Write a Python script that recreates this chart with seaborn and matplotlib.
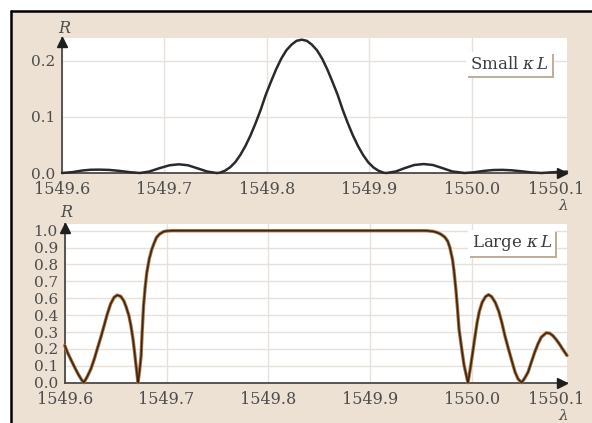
import numpy as np
import pandas as pd
import matplotlib
matplotlib.use("Agg")
import matplotlib.pyplot as plt
from matplotlib.patches import Rectangle
from matplotlib.lines import Line2D
from matplotlib import patheffects
from matplotlib.transforms import offset_copy
import seaborn as sns

# ---- Reflectance spectrum of a weak grating (small kappa*L) ----
lam_small = [
    1549.600, 1549.610, 1549.620, 1549.628, 1549.637, 1549.646, 1549.656, 1549.666,
    1549.676, 1549.685, 1549.695, 1549.705, 1549.714, 1549.723, 1549.732, 1549.742,
    1549.751, 1549.754, 1549.759, 1549.764, 1549.769, 1549.774, 1549.779, 1549.784,
    1549.789, 1549.794, 1549.799, 1549.804, 1549.809, 1549.814, 1549.819, 1549.824,
    1549.829, 1549.834, 1549.839, 1549.844, 1549.849, 1549.854, 1549.859, 1549.864,
    1549.869, 1549.874, 1549.879, 1549.884, 1549.889, 1549.894, 1549.899, 1549.904,
    1549.909, 1549.914, 1549.917, 1549.926, 1549.935, 1549.944, 1549.953, 1549.962,
    1549.971, 1549.981, 1549.993, 1550.002, 1550.012, 1550.021, 1550.030, 1550.039,
    1550.049, 1550.058, 1550.068, 1550.078, 1550.093,
]
r_small = [
    0.0, 0.0015, 0.0045, 0.0058, 0.0060, 0.0055, 0.0038, 0.0015,
    0.0, 0.0025, 0.0085, 0.0138, 0.0155, 0.0138, 0.0085, 0.0025,
    0.0, 0.0005, 0.004, 0.010, 0.019, 0.032, 0.048, 0.067,
    0.089, 0.113, 0.140, 0.163, 0.185, 0.204, 0.219, 0.229,
    0.236, 0.238, 0.236, 0.229, 0.219, 0.204, 0.185, 0.163,
    0.140, 0.113, 0.089, 0.067, 0.048, 0.032, 0.019, 0.010,
    0.004, 0.0005, 0.0, 0.0028, 0.0090, 0.0143, 0.0160, 0.0143,
    0.0090, 0.0028, 0.0, 0.0012, 0.0038, 0.0053, 0.0056, 0.0048,
    0.0030, 0.0011, 0.0, 0.0012, 0.0025,
]

# ---- Reflectance spectrum of a strong grating (large kappa*L) ----
lam_large = [
    1549.600, 1549.603, 1549.6065, 1549.610, 1549.613, 1549.616, 1549.6187, 1549.622,
    1549.6258, 1549.629, 1549.632, 1549.6355, 1549.6387, 1549.6415, 1549.645, 1549.6485,
    1549.6516, 1549.655, 1549.658, 1549.6605, 1549.663, 1549.665, 1549.667, 1549.6685,
    1549.670, 1549.671, 1549.672, 1549.6735, 1549.675, 1549.676, 1549.6774, 1549.679,
    1549.6806, 1549.683, 1549.6855, 1549.688, 1549.690, 1549.693, 1549.6968, 1549.700,
    1549.705, 1549.955, 1549.962, 1549.966, 1549.9694, 1549.973, 1549.9758, 1549.978,
    1549.9806, 1549.982, 1549.9839, 1549.9855, 1549.987, 1549.9895, 1549.992, 1549.9958,
    1549.998, 1550.000, 1550.0024, 1550.0048, 1550.007, 1550.0097, 1550.013, 1550.016,
    1550.019, 1550.0226, 1550.026, 1550.029, 1550.032, 1550.0355, 1550.039, 1550.042,
    1550.045, 1550.0484, 1550.0515, 1550.0548, 1550.058, 1550.0613, 1550.0645, 1550.0677,
    1550.0726, 1550.076, 1550.079, 1550.082, 1550.0855, 1550.089, 1550.093,
]
r_large = [
    0.245, 0.195, 0.146, 0.098, 0.059, 0.025, 0.0, 0.038,
    0.092, 0.155, 0.223, 0.300, 0.376, 0.445, 0.517, 0.562,
    0.576, 0.568, 0.539, 0.495, 0.441, 0.375, 0.288, 0.205,
    0.114, 0.055, 0.0, 0.080, 0.179, 0.330, 0.507, 0.630,
    0.725, 0.815, 0.878, 0.922, 0.954, 0.977, 0.993, 0.998,
    1.0, 1.0, 0.995, 0.987, 0.976, 0.958, 0.932, 0.890,
    0.812, 0.740, 0.616, 0.490, 0.354, 0.230, 0.114, 0.0,
    0.090, 0.179, 0.290, 0.397, 0.470, 0.528, 0.566, 0.579,
    0.566, 0.528, 0.470, 0.397, 0.310, 0.223, 0.140, 0.070,
    0.025, 0.0, 0.030, 0.070, 0.135, 0.200, 0.255, 0.299,
    0.328, 0.325, 0.310, 0.287, 0.255, 0.218, 0.179,
]

x_ticks = [1549.6, 1549.7, 1549.8, 1549.9, 1550.0]
x_tick_labels = ["1549.6", "1549.7", "1549.8", "1549.9", "1550.0"]
x_end_label = "1550.1"
small_y_ticks = [0.0, 0.1, 0.2]
small_y_labels = ["0.0", "0.1", "0.2"]
large_y_labels = ["0.0", "0.1", "0.2", "0.3", "0.4", "0.6", "0.7", "0.8", "0.9", "1.0"]

BEIGE = "#ede1d4"
GRID = "#e8e1d9"
AXIS = "#4a4a4a"
TEXT = "#4d4d4d"

sns.set_style("white")
plt.rcParams["font.family"] = ["DejaVu Serif"]
plt.rcParams["mathtext.fontset"] = "dejavuserif"

W, H = 592, 423
fig = plt.figure(figsize=(W / 100, H / 100), dpi=100, facecolor="white")

# beige page with a black rule along the top and left
fig.add_artist(Rectangle((11 / W, 0), 1, (H - 11) / H, transform=fig.transFigure,
                         fc=BEIGE, ec="none", zorder=0))
fig.add_artist(Line2D([11 / W, 1], [(H - 11) / H] * 2, transform=fig.transFigure,
                      color="black", lw=1.8))
fig.add_artist(Line2D([11 / W] * 2, [0, (H - 11) / H], transform=fig.transFigure,
                      color="black", lw=1.8))

ax1 = fig.add_axes([62 / W, 250 / H, 505 / W, 135 / H])
ax2 = fig.add_axes([64.7 / W, 40.3 / H, 502.3 / W, 158.7 / H])

df_small = pd.DataFrame({"lam": lam_small, "R": r_small})
df_large = pd.DataFrame({"lam": lam_large, "R": r_large})

sns.lineplot(data=df_small, x="lam", y="R", ax=ax1, color="#2a2a2a", lw=1.8,
             sort=False, estimator=None, zorder=5)
sns.lineplot(data=df_large, x="lam", y="R", ax=ax2, color="#a8703e", lw=2.4,
             sort=False, estimator=None, zorder=5)
sns.lineplot(data=df_large, x="lam", y="R", ax=ax2, color="#3a2515", lw=1.1,
             sort=False, estimator=None, zorder=6)

large_y_ticks = np.linspace(0, 1, len(large_y_labels))

XPAD = 6.0  # points between the x axis and its tick labels

for ax, yt, yl, ylim, rdy, lab, lab_xy in (
    (ax1, small_y_ticks, small_y_labels, 0.241, 10, r"Small $\kappa\,L$", (0.885, 0.807)),
    (ax2, large_y_ticks, large_y_labels, 1.044, 12, r"Large $\kappa\,L$", (0.890, 0.880)),
):
    for ln in ax.lines:
        ln.set_clip_on(False)
    ax.set_facecolor("white")
    ax.set_xlim(1549.6, 1550.093)
    ax.set_ylim(0, ylim)
    ax.set_xticks(x_ticks)
    ax.set_xticklabels(x_tick_labels)
    ax.set_yticks(yt)
    ax.set_yticklabels(yl)
    ax.set_xlabel("")
    ax.set_ylabel("")
    ax.grid(True, color=GRID, lw=1.0)
    ax.set_axisbelow(True)
    for s in ("top", "right"):
        ax.spines[s].set_visible(False)
    for s in ("left", "bottom"):
        ax.spines[s].set_color(AXIS)
        ax.spines[s].set_linewidth(1.3)
        ax.spines[s].set_zorder(4)
    ax.tick_params(axis="x", length=0, pad=XPAD, labelsize=11.5, labelcolor=TEXT)
    ax.tick_params(axis="y", length=0, pad=5, labelsize=11, labelcolor=TEXT)

    # arrow heads on the axes
    ax.plot([0], [1], marker="^", ms=7, color="#1e1e1e", clip_on=False, zorder=7,
            transform=offset_copy(ax.transAxes, fig, x=0, y=-4, units="dots"))
    ax.plot([1], [0], marker=">", ms=7, color="#1e1e1e", clip_on=False, zorder=7,
            transform=offset_copy(ax.transAxes, fig, x=-5, y=0, units="dots"))

    ax.text(0, 1, "R", style="italic", fontsize=11.5, color=TEXT, ha="center", va="center",
            transform=offset_copy(ax.transAxes, fig, x=2, y=rdy, units="dots"))
    ax.text(1, 0, "λ", style="italic", fontsize=11, color=TEXT, ha="center", va="center",
            transform=offset_copy(ax.transAxes, fig, x=-4, y=-33, units="dots"))
    ax.text(0.978, 0, x_end_label, fontsize=11.5, color=TEXT, ha="center", va="top",
            transform=offset_copy(ax.transAxes, fig, x=0, y=-XPAD, units="points"))

    t = ax.text(lab_xy[0], lab_xy[1], lab, fontsize=12, color="#3c3c3c",
                ha="center", va="center", transform=ax.transAxes, zorder=8,
                bbox=dict(boxstyle="square,pad=0.2", fc="white", ec="none"))
    t.get_bbox_patch().set_path_effects([
        patheffects.SimplePatchShadow(offset=(1.5, -1.5), shadow_rgbFace="#bfae99", alpha=1.0),
        patheffects.Normal(),
    ])

fig.savefig("out.png", dpi=100, facecolor=fig.get_facecolor())
